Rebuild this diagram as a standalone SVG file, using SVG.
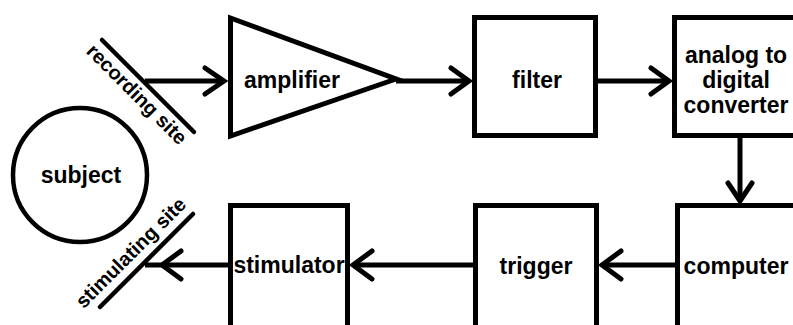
<svg xmlns="http://www.w3.org/2000/svg" width="793" height="325" viewBox="0 0 793 325">
<style>
.box{fill:#fff;stroke:#000;stroke-width:5}
.ln{fill:none;stroke:#000;stroke-width:5;stroke-linecap:butt}
.hd{fill:none;stroke:#000;stroke-width:5;stroke-linecap:round;stroke-linejoin:miter}
.lbl{font-family:"Liberation Sans",Arial,sans-serif;font-weight:bold;font-size:23px;text-anchor:middle;fill:#000}
.site{font-family:"Liberation Sans",Arial,sans-serif;font-weight:bold;font-size:20px;text-anchor:middle;fill:#000}
</style>
<rect width="793" height="325" fill="#fff"/>
<g id="connectors">
<line class="ln" x1="145" y1="81" x2="224" y2="81"/>
<polyline class="hd" points="205,68 224,81 205,94"/>
<line class="ln" x1="396" y1="81" x2="469" y2="81"/>
<polyline class="hd" points="451,68 469,81 451,94"/>
<line class="ln" x1="598" y1="81" x2="669" y2="81"/>
<polyline class="hd" points="651,68 669,81 651,94"/>
<line class="ln" x1="740" y1="138" x2="740" y2="201"/>
<polyline class="hd" points="728,183 740,201 752,183"/>
<line class="ln" x1="675" y1="265" x2="602" y2="265"/>
<polyline class="hd" points="621,251 602,265 621,279"/>
<line class="ln" x1="473" y1="265" x2="353" y2="265"/>
<polyline class="hd" points="372,251 353,265 372,279"/>
<line class="ln" x1="228" y1="265" x2="145" y2="265"/>
<polyline class="hd" points="181,251 162,265 181,279"/>
</g>
<g id="subject">
<circle cx="80" cy="175" r="67" fill="#fff" stroke="#000" stroke-width="4.5"/>
<text class="lbl" x="81" y="183">subject</text>
</g>
<g id="recording-site">
<line x1="102" y1="40" x2="194" y2="132" stroke="#000" stroke-width="4.5" stroke-linecap="round"/>
<text class="site" transform="translate(132,99) rotate(45)" x="0" y="0">recording site</text>
</g>
<g id="stimulating-site">
<line x1="100" y1="307" x2="193" y2="214" stroke="#000" stroke-width="4.5" stroke-linecap="round"/>
<text class="site" transform="translate(135.5,257.5) rotate(-45)" x="0" y="0">stimulating site</text>
</g>
<g id="amplifier">
<polygon points="230.5,18 230.5,136 396,79" fill="#fff" stroke="#000" stroke-width="5" stroke-linejoin="miter"/>
<text class="lbl" x="292" y="88">amplifier</text>
</g>
<g id="filter">
<rect class="box" x="474.5" y="17.5" width="121" height="118"/>
<text class="lbl" x="537" y="88">filter</text>
</g>
<g id="adc">
<rect class="box" x="674.5" y="17.5" width="140" height="118"/>
<text class="lbl" x="736" y="63">analog to</text>
<text class="lbl" x="736" y="88">digital</text>
<text class="lbl" x="736" y="113">converter</text>
</g>
<g id="computer">
<rect class="box" x="677.5" y="205.5" width="140" height="140"/>
<text class="lbl" x="736" y="274">computer</text>
</g>
<g id="trigger">
<rect class="box" x="475.5" y="205.5" width="121" height="140"/>
<text class="lbl" x="536" y="274">trigger</text>
</g>
<g id="stimulator">
<rect class="box" x="230.5" y="205.5" width="117" height="140"/>
<text class="lbl" x="289" y="273">stimulator</text>
</g>
</svg>
